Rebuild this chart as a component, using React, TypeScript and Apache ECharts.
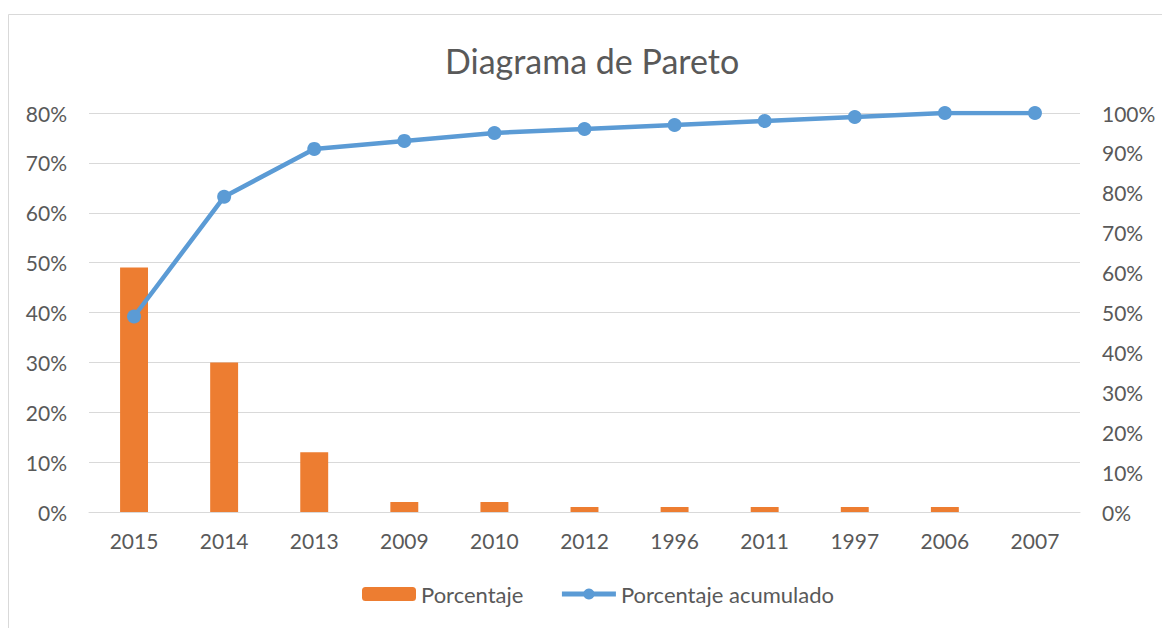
import React, { useEffect, useRef } from "react";
import * as echarts from "echarts";

const categories = ["2015", "2014", "2013", "2009", "2010", "2012", "1996", "2011", "1997", "2006", "2007"];
const porcentaje = [49, 30, 12, 2, 2, 1, 1, 1, 1, 1, 0];
const acumulado = [49, 79, 91, 93, 95, 96, 97, 98, 99, 100, 100];

const FONT = "Lato, 'Open Sans', sans-serif";
const TXT = "#595959";

export default function App() {
  const ref = useRef<HTMLDivElement>(null);
  useEffect(() => {
    document.body.style.margin = "0";
    const chart = echarts.init(ref.current!, null, { renderer: "svg" });
    chart.setOption({
      animation: false,
      backgroundColor: "#ffffff",
      textStyle: { fontFamily: FONT },
      graphic: [
        {
          type: "rect",
          shape: { x: 8.5, y: 14.5, width: 1200, height: 700 },
          style: { fill: "none", stroke: "#D9D9D9", lineWidth: 1 },
          silent: true,
        },
      ],
      title: {
        text: "Diagrama de Pareto",
        left: 440,
        top: 38,
        textStyle: { fontFamily: FONT, fontSize: 34, fontWeight: "normal", color: TXT },
      },
      legend: {
        bottom: 18,
        left: 357,
        itemWidth: 54,
        itemHeight: 14,
        itemGap: 36,
        textStyle: { fontFamily: FONT, fontSize: 22, color: TXT },
        data: [
          { name: "Porcentaje" },
          { name: "Porcentaje acumulado", lineStyle: { width: 5 } },
        ],
      },
      grid: { left: 89, right: 82, top: 113, bottom: 116, containLabel: false },
      xAxis: {
        type: "category",
        data: categories,
        axisLine: { lineStyle: { color: "#D9D9D9", width: 1 } },
        axisTick: { show: false },
        axisLabel: { color: TXT, fontSize: 21, fontFamily: FONT, margin: 18 },
      },
      yAxis: [
        {
          type: "value",
          min: 0,
          max: 80,
          interval: 10,
          axisLabel: { formatter: "{value}%", color: TXT, fontSize: 21, fontFamily: FONT, margin: 22 },
          splitLine: { lineStyle: { color: "#D9D9D9", width: 1 } },
          axisLine: { show: false },
          axisTick: { show: false },
        },
        {
          type: "value",
          min: 0,
          max: 100,
          interval: 10,
          position: "right",
          axisLabel: { formatter: "{value}%", color: TXT, fontSize: 21, fontFamily: FONT, margin: 22 },
          splitLine: { show: false },
          axisLine: { show: false },
          axisTick: { show: false },
        },
      ],
      series: [
        {
          name: "Porcentaje",
          type: "bar",
          data: porcentaje,
          yAxisIndex: 0,
          barWidth: "31%",
          itemStyle: { color: "#ED7D31" },
        },
        {
          name: "Porcentaje acumulado",
          type: "line",
          data: acumulado,
          yAxisIndex: 1,
          symbol: "circle",
          symbolSize: 14,
          lineStyle: { color: "#5B9BD5", width: 4.5 },
          itemStyle: { color: "#5B9BD5" },
        },
      ],
    });
    return () => chart.dispose();
  }, []);
  return <div ref={ref} style={{ width: 1162, height: 628 }} />;
}
